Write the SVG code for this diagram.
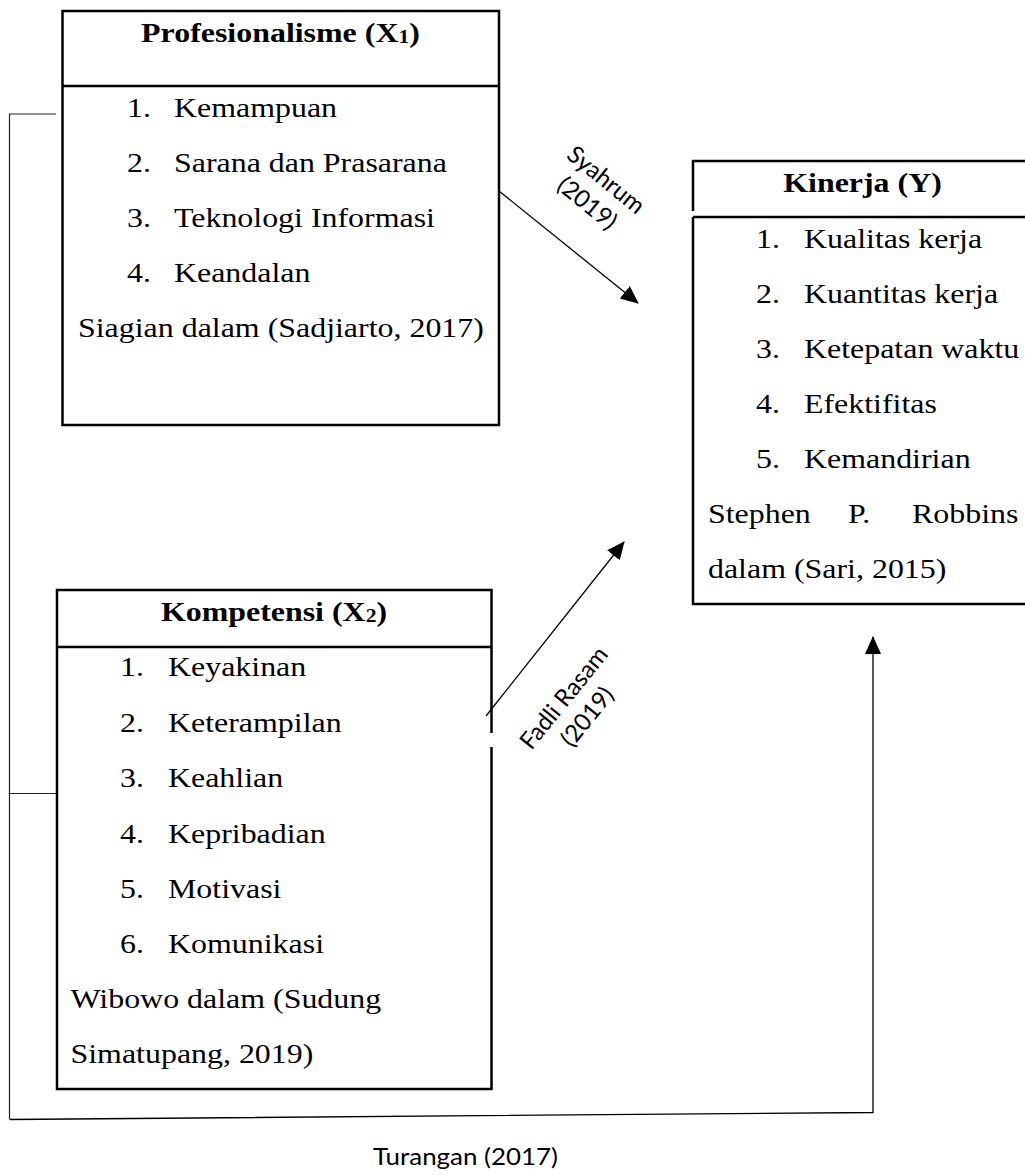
<svg xmlns="http://www.w3.org/2000/svg" width="1025" height="1175" viewBox="0 0 1025 1175">
<defs>
<style>
.t{font-family:"Liberation Serif","Times New Roman",serif;font-size:28px;fill:#000}
.b{font-weight:bold}
.s{font-family:"Lato","Open Sans",sans-serif;font-size:24px;fill:#000}
.box{fill:none;stroke:#000;stroke-width:2.5}
.con{fill:none;stroke:#000;stroke-width:1.3}
.thin{fill:none;stroke:#222;stroke-width:1.2}
</style>
<marker id="ah" markerUnits="userSpaceOnUse" markerWidth="18" markerHeight="18" viewBox="0 0 18 18" refX="17" refY="9" orient="auto">
<path d="M0,1 L18,9 L0,17 Z" fill="#000"/>
</marker>
</defs>
<rect width="1025" height="1175" fill="#fff"/>

<g id="connectors">
<path class="thin" d="M56,114 H9.5 V1119.5"/>
<path class="thin" d="M8.5,793.5 H57"/>
<path class="con" d="M10,1119.5 L873,1112.5 V637" marker-end="url(#ah)"/>
<path class="con" d="M499,191 L638,303" marker-end="url(#ah)"/>
<path class="con" d="M486,716 L624,542" marker-end="url(#ah)"/>
<text class="s" transform="translate(606 180) rotate(39)" text-anchor="middle"><tspan x="0" y="8">Syahrum</tspan><tspan x="0" y="38">(2019)</tspan></text>
<text class="s" transform="translate(564 698) rotate(-51)" text-anchor="middle"><tspan x="0" y="8">Fadli Rasam</tspan><tspan x="0" y="38">(2019)</tspan></text>
<text class="s" transform="translate(465.5 1165) scale(1.08 1)" text-anchor="middle">Turangan (2017)</text>
</g>

<g id="profesionalisme">
<rect class="box" x="62.5" y="11" width="436.5" height="414"/>
<line class="box" x1="62.5" y1="86" x2="499" y2="86"/>
<text class="t b" transform="translate(280.5 42) scale(1.14 1)" text-anchor="middle">Profesionalisme (X<tspan font-size="19" dy="1">1</tspan><tspan dy="-1">)</tspan></text>
<text class="t" transform="translate(127 117) scale(1.14 1)">1.</text>
<text class="t" transform="translate(174 117) scale(1.14 1)">Kemampuan</text>
<text class="t" transform="translate(127 172) scale(1.14 1)">2.</text>
<text class="t" transform="translate(174 172) scale(1.14 1)">Sarana dan Prasarana</text>
<text class="t" transform="translate(127 227) scale(1.14 1)">3.</text>
<text class="t" transform="translate(174 227) scale(1.14 1)">Teknologi Informasi</text>
<text class="t" transform="translate(127 282) scale(1.14 1)">4.</text>
<text class="t" transform="translate(174 282) scale(1.14 1)">Keandalan</text>
<text class="t" transform="translate(78 337) scale(1.14 1)">Siagian dalam (Sadjiarto, 2017)</text>
</g>

<g id="kinerja">
<path class="box" d="M693,211 V161 H1032 M693,217 V604 H1032 M693,217 H1032"/>
<text class="t b" transform="translate(862.5 192) scale(1.14 1)" text-anchor="middle">Kinerja (Y)</text>
<text class="t" transform="translate(756 248) scale(1.14 1)">1.</text>
<text class="t" transform="translate(804 248) scale(1.14 1)">Kualitas kerja</text>
<text class="t" transform="translate(756 303) scale(1.14 1)">2.</text>
<text class="t" transform="translate(804 303) scale(1.14 1)">Kuantitas kerja</text>
<text class="t" transform="translate(756 358) scale(1.14 1)">3.</text>
<text class="t" transform="translate(804 358) scale(1.14 1)">Ketepatan waktu</text>
<text class="t" transform="translate(756 413) scale(1.14 1)">4.</text>
<text class="t" transform="translate(804 413) scale(1.14 1)">Efektifitas</text>
<text class="t" transform="translate(756 468) scale(1.14 1)">5.</text>
<text class="t" transform="translate(804 468) scale(1.14 1)">Kemandirian</text>
<text class="t" transform="translate(708 523) scale(1.14 1)">Stephen</text>
<text class="t" transform="translate(848 523) scale(1.14 1)">P.</text>
<text class="t" transform="translate(912 523) scale(1.14 1)">Robbins</text>
<text class="t" transform="translate(708 578) scale(1.14 1)">dalam (Sari, 2015)</text>
</g>

<g id="kompetensi">
<path class="box" d="M491.5,733 V590 H57 V1089 H491.5 V747"/>
<line class="box" x1="57" y1="647" x2="491.5" y2="647"/>
<text class="t b" transform="translate(274 621) scale(1.14 1)" text-anchor="middle">Kompetensi (X<tspan font-size="19" dy="1">2</tspan><tspan dy="-1">)</tspan></text>
<text class="t" transform="translate(120 676) scale(1.14 1)">1.</text>
<text class="t" transform="translate(168 676) scale(1.14 1)">Keyakinan</text>
<text class="t" transform="translate(120 732) scale(1.14 1)">2.</text>
<text class="t" transform="translate(168 732) scale(1.14 1)">Keterampilan</text>
<text class="t" transform="translate(120 787) scale(1.14 1)">3.</text>
<text class="t" transform="translate(168 787) scale(1.14 1)">Keahlian</text>
<text class="t" transform="translate(120 843) scale(1.14 1)">4.</text>
<text class="t" transform="translate(168 843) scale(1.14 1)">Kepribadian</text>
<text class="t" transform="translate(120 898) scale(1.14 1)">5.</text>
<text class="t" transform="translate(168 898) scale(1.14 1)">Motivasi</text>
<text class="t" transform="translate(120 953) scale(1.14 1)">6.</text>
<text class="t" transform="translate(168 953) scale(1.14 1)">Komunikasi</text>
<text class="t" transform="translate(70.5 1008) scale(1.14 1)">Wibowo dalam (Sudung</text>
<text class="t" transform="translate(70.5 1063) scale(1.14 1)">Simatupang, 2019)</text>
</g>
</svg>
